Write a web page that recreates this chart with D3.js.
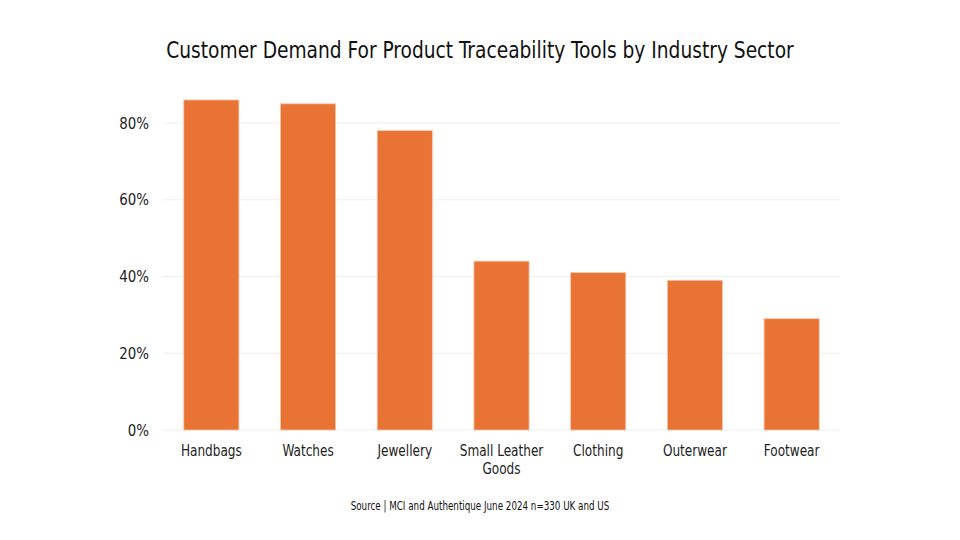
<!DOCTYPE html>
<html><head><meta charset="utf-8">
<script src="https://cdn.jsdelivr.net/npm/d3@7"></script>
<style>
body{margin:0;background:#fff;}
text{font-family:"Liberation Sans Narrow","DejaVu Sans Condensed","Roboto Condensed",sans-serif;font-stretch:condensed;}
</style></head><body>
<svg id="c" width="960" height="540"></svg>
<script>
const categories = ["Handbags","Watches","Jewellery","Small Leather Goods","Clothing","Outerwear","Footwear"];
const values = [0.86,0.85,0.78,0.44,0.41,0.39,0.29];
const yTicks = [0,0.2,0.4,0.6,0.8];
const title = "Customer Demand For Product Traceability Tools by Industry Sector";
const source = "Source | MCI and Authentique June 2024 n=330 UK and US";

const svg = d3.select("#c");
const x = d3.scaleBand().domain(categories).range([163,840]).paddingInner(0.43).paddingOuter(0.215);
const y = d3.scaleLinear().domain([0,0.8]).range([430,123]);

function squeeze(sel, f){
  sel.each(function(){
    const w = this.getComputedTextLength();
    d3.select(this).attr("textLength", w*f).attr("lengthAdjust","spacingAndGlyphs");
  });
}

const tt = svg.append("text").attr("x",480).attr("y",58).attr("text-anchor","middle")
  .style("font-size","23px").attr("fill","#111").text(title);
squeeze(tt, 0.9);

const g = svg.append("g");
g.selectAll("line.grid").data(yTicks).join("line").attr("class","grid")
  .attr("x1",163).attr("x2",840).attr("y1",d=>y(d)).attr("y2",d=>y(d))
  .attr("stroke","#eeeeee").attr("stroke-width",1);

const yl = g.selectAll("text.yl").data(yTicks).join("text").attr("class","yl")
  .attr("x",149).attr("y",d=>y(d)).attr("dy","0.35em").attr("text-anchor","end")
  .style("font-size","16px").attr("fill","#222").text(d=>d3.format(".0%")(d));
squeeze(yl, 0.93);

g.selectAll("rect.bar").data(values).join("rect").attr("class","bar")
  .attr("x",(d,i)=>x(categories[i])).attr("width",x.bandwidth())
  .attr("y",d=>y(d)).attr("height",d=>y(0)-y(d))
  .attr("fill","#E97334").attr("stroke","#f6c6a8").attr("stroke-width",0.8);

const xl = g.selectAll("text.xl").data(categories).join("text").attr("class","xl")
  .attr("x",d=>x(d)+x.bandwidth()/2).attr("y",456).attr("text-anchor","middle")
  .style("font-size","16px").attr("fill","#222");
xl.each(function(d){
  const t = d3.select(this);
  const lines = d==="Small Leather Goods" ? ["Small Leather","Goods"] : [d];
  lines.forEach((l,i)=>t.append("tspan").attr("x",x(d)+x.bandwidth()/2).attr("y",456+i*18).text(l));
});
squeeze(xl.selectAll("tspan"), 0.84);

const st = svg.append("text").attr("x",480).attr("y",510).attr("text-anchor","middle")
  .style("font-size","12px").attr("fill","#111").text(source);
squeeze(st, 0.81);
</script></body></html>
